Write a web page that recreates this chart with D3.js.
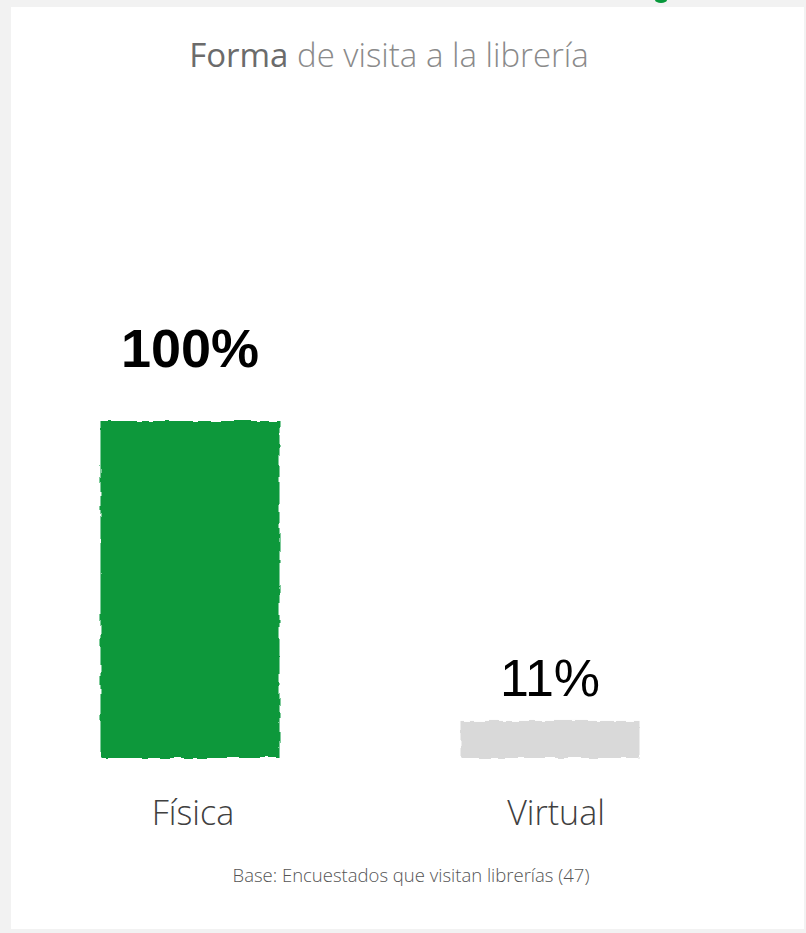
<!DOCTYPE html>
<html><head><meta charset="utf-8">
<script src="https://cdn.jsdelivr.net/npm/d3@7"></script>
<style>html,body{margin:0;padding:0;background:#f2f2f2;}svg{display:block;}</style>
</head><body>
<script>
const categories = ["Física", "Virtual"];
const values = [100, 11];
const valueLabels = ["100%", "11%"];
const colors = ["#07983b", "#d9d9d9"];
const titleBold = "Forma";
const titleRest = " de visita a la librería";
const footnote = "Base: Encuestados que visitan librerías (47)";

const W = 806, H = 933;
const svg = d3.select("body").append("svg").attr("width", W).attr("height", H);
svg.append("rect").attr("width", W).attr("height", H).attr("fill", "#f2f2f2");
svg.append("rect").attr("x", 11).attr("y", 7).attr("width", 793).attr("height", 922).attr("fill", "#fff");
svg.append("ellipse").attr("cx", 661).attr("cy", 0).attr("rx", 6).attr("ry", 3).attr("fill", "#07983b");

const defs = svg.append("defs");
const f = defs.append("filter").attr("id", "rough").attr("x", "-5%").attr("y", "-5%").attr("width", "110%").attr("height", "110%");
f.append("feTurbulence").attr("type", "fractalNoise").attr("baseFrequency", "0.08").attr("numOctaves", 2).attr("seed", 3).attr("result", "n");
f.append("feDisplacementMap").attr("in", "SourceGraphic").attr("in2", "n").attr("scale", 4).attr("xChannelSelector", "R").attr("yChannelSelector", "G");

const x = d3.scalePoint().domain(categories).range([190, 550]);
const y = d3.scaleLinear().domain([0, 100]).range([758, 421]);

const font = "'Open Sans', 'Segoe UI', sans-serif";
const numFont = "'Liberation Sans', Arial, sans-serif";

svg.append("text").attr("x", 389).attr("y", 67).attr("text-anchor", "middle")
  .attr("font-family", font).attr("font-size", 33).attr("font-weight", 300).attr("fill", "#8a8a8a")
  .call(t => {
    t.append("tspan").attr("fill", "#6b6b6b").attr("font-weight", 400).text(titleBold);
    t.append("tspan").text(titleRest);
  });

const bw = 179;
const g = svg.append("g");
categories.forEach((c, i) => {
  const cx = x(c);
  g.append("rect").attr("x", cx - bw / 2).attr("y", y(values[i])).attr("width", bw)
    .attr("height", y(0) - y(values[i])).attr("fill", colors[i]).attr("filter", "url(#rough)");
  g.append("text").attr("x", cx).attr("y", y(values[i]) - (i === 0 ? 54 : 25)).attr("text-anchor", "middle")
    .attr("font-family", numFont).attr("font-size", i === 0 ? 54 : 52).attr("font-weight", i === 0 ? 700 : 400)
    .attr("fill", "#000").text(valueLabels[i]);
  g.append("text").attr("x", cx + 3 + i * 3).attr("y", 825).attr("text-anchor", "middle")
    .attr("font-family", font).attr("font-size", 34).attr("font-weight", 300)
    .attr("fill", "#404040").text(c);
});

svg.append("text").attr("x", 411).attr("y", 882).attr("text-anchor", "middle")
  .attr("font-family", font).attr("font-size", 18.5).attr("font-weight", 300)
  .attr("fill", "#555").text(footnote);
</script>
</body></html>
